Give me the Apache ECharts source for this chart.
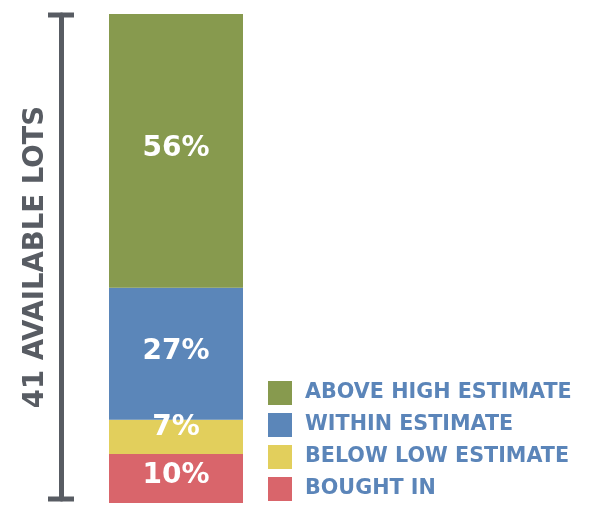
<!DOCTYPE html>
<html><head><meta charset="utf-8">
<script src="https://cdn.jsdelivr.net/npm/echarts@6/dist/echarts.min.js"></script>
<style>html,body{margin:0;padding:0;background:#fff}#c{width:610px;height:509px}</style>
</head><body><div id="c"></div>
<script>
const categories = ['Lots'];
const seriesNames = ['BOUGHT IN', 'BELOW LOW ESTIMATE', 'WITHIN ESTIMATE', 'ABOVE HIGH ESTIMATE'];
const seriesValues = [[10], [7], [27], [56]];
const seriesColors = ['#d9656b', '#e2cf5c', '#5b86b9', '#879a4e'];
const legendOrder = ['ABOVE HIGH ESTIMATE', 'WITHIN ESTIMATE', 'BELOW LOW ESTIMATE', 'BOUGHT IN'];
const axisTitle = '41 AVAILABLE LOTS';
const labelOffsets = [[0, -3], [0, -9], [0, -2], [0, -2]];
const FONT = 'DejaVu Sans';

const chart = echarts.init(document.getElementById('c'));
chart.setOption({
  animation: false,
  grid: [
    {left: 109, top: 14, width: 134, height: 489},
    {left: 61, top: 15, width: 1, height: 484}
  ],
  xAxis: [
    {type: 'category', data: categories, gridIndex: 0, show: false},
    {type: 'category', data: categories, gridIndex: 1, show: false}
  ],
  yAxis: [
    {type: 'value', min: 0, max: 100, gridIndex: 0, show: false},
    {type: 'value', min: 0, max: 100, gridIndex: 1, position: 'left',
     axisLine: {show: true, lineStyle: {color: '#585c63', width: 5}, symbol: ['rect', 'rect'], symbolSize: [26, 5], symbolOffset: [0, 0]},
     axisTick: {show: false}, axisLabel: {show: false}, splitLine: {show: false},
     name: axisTitle, nameLocation: 'middle', nameRotate: 90, nameGap: 11,
     nameTextStyle: {fontFamily: FONT, fontWeight: 'bold', fontSize: 27.5, color: '#585c63'}}
  ],
  legend: {
    data: legendOrder, orient: 'vertical', left: 263, top: 376,
    itemWidth: 24, itemHeight: 24, itemGap: 8, icon: 'rect',
    selectedMode: false,
    textStyle: {fontFamily: FONT, fontWeight: 'bold', fontSize: 20.7, color: '#5b85b9', padding: [0, 0, 0, 8]}
  },
  series: seriesNames.map((n, i) => ({
    name: n, type: 'bar', stack: 'all', data: seriesValues[i], barWidth: '100%',
    itemStyle: {color: seriesColors[i]},
    label: {show: true, position: 'inside', formatter: '{c}%', offset: labelOffsets[i],
      fontFamily: FONT, fontWeight: 'bold', fontSize: 28, color: '#fff'}
  }))
});
</script></body></html>
